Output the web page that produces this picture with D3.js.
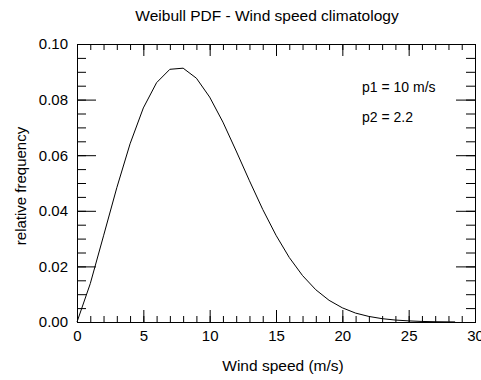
<!doctype html>
<html>
<head>
  <meta charset="utf-8">
  <title>Weibull PDF</title>
  <script src="https://cdn.jsdelivr.net/npm/d3@7"></script>
  <style>
    body { margin: 0; background: #fff; }
    svg text { font-family: "Liberation Sans", Arial, sans-serif; fill: #000; }
  </style>
</head>
<body>
  <div id="chart"></div>
  <script>
    // wind speed (m/s) and relative frequency
    var speeds = [0, 1, 2, 3, 4, 5, 6, 7, 8, 9, 10, 11, 12, 13, 14, 15, 16, 17, 18, 19,
                  20, 21, 22, 23, 24, 25, 26, 27, 28, 28.5];
    var freqs = [0, 0.0138, 0.0310, 0.0483, 0.0641, 0.0770, 0.0861, 0.0909, 0.0913, 0.0877,
                 0.0809, 0.0719, 0.0615, 0.0508, 0.0405, 0.0312, 0.0232, 0.0167, 0.0116, 0.0078,
                 0.0051, 0.0032, 0.0020, 0.0012, 0.0007, 0.0004, 0.0002, 0.0001, 0.00005, 0.00003];
    var xTicks = [0, 5, 10, 15, 20, 25, 30];
    var yTicks = [0, 0.02, 0.04, 0.06, 0.08, 0.10];
    var notes = ['p1 = 10 m/s', 'p2 = 2.2'];

    var width = 481, height = 380;
    var plotLeft = 77, plotRight = 475, plotTop = 44, plotBottom = 322;

    var svg = d3.select('#chart').append('svg')
      .attr('width', width)
      .attr('height', height);

    var x = d3.scaleLinear().domain([0, 30]).range([plotLeft, plotRight]);
    var y = d3.scaleLinear().domain([0, 0.10]).range([plotBottom, plotTop]);

    var xMinor = d3.range(0, 31, 1);
    var yMinor = d3.range(0, 0.1001, 0.005);

    // bottom and top axes
    svg.append('g')
      .attr('transform', 'translate(0,' + plotBottom + ')')
      .call(d3.axisBottom(x).tickValues(xMinor).tickSize(-6).tickFormat(''));
    svg.append('g')
      .attr('transform', 'translate(0,' + plotBottom + ')')
      .call(d3.axisBottom(x).tickValues(xTicks).tickSize(-12).tickPadding(8)
        .tickFormat(d3.format('d')));
    svg.append('g')
      .attr('transform', 'translate(0,' + plotTop + ')')
      .call(d3.axisTop(x).tickValues(xMinor).tickSize(-6).tickFormat(''));
    svg.append('g')
      .attr('transform', 'translate(0,' + plotTop + ')')
      .call(d3.axisTop(x).tickValues(xTicks).tickSize(-12).tickFormat(''));

    // left and right axes
    svg.append('g')
      .attr('transform', 'translate(' + plotLeft + ',0)')
      .call(d3.axisLeft(y).tickValues(yMinor).tickSize(-9).tickFormat(''));
    svg.append('g')
      .attr('transform', 'translate(' + plotLeft + ',0)')
      .call(d3.axisLeft(y).tickValues(yTicks).tickSize(-19).tickPadding(9)
        .tickFormat(d3.format('.2f')));
    svg.append('g')
      .attr('transform', 'translate(' + plotRight + ',0)')
      .call(d3.axisRight(y).tickValues(yMinor).tickSize(-9).tickFormat(''));
    svg.append('g')
      .attr('transform', 'translate(' + plotRight + ',0)')
      .call(d3.axisRight(y).tickValues(yTicks).tickSize(-19).tickFormat(''));

    svg.selectAll('.domain').attr('stroke', '#000');
    svg.selectAll('.tick line').attr('stroke', '#000');
    svg.selectAll('.tick text').attr('font-size', '15px');

    svg.append('path')
      .datum(d3.zip(speeds, freqs))
      .attr('fill', 'none')
      .attr('stroke', '#000')
      .attr('stroke-width', 1)
      .attr('d', d3.line()
        .x(function(d) { return x(d[0]); })
        .y(function(d) { return y(d[1]); }));

    svg.selectAll('text.note')
      .data(notes)
      .enter()
      .append('text')
      .attr('class', 'note')
      .attr('x', 362)
      .attr('y', function(d, i) { return 92 + i * 30; })
      .attr('font-size', '14px')
      .text(function(d) { return d; });

    svg.append('text')
      .attr('x', 267)
      .attr('y', 21)
      .attr('text-anchor', 'middle')
      .attr('font-size', '15.5px')
      .text('Weibull PDF - Wind speed climatology');

    svg.append('text')
      .attr('x', 283)
      .attr('y', 371)
      .attr('text-anchor', 'middle')
      .attr('font-size', '15.5px')
      .text('Wind speed (m/s)');

    svg.append('text')
      .attr('transform', 'translate(26,186) rotate(-90)')
      .attr('text-anchor', 'middle')
      .attr('font-size', '15px')
      .text('relative frequency');
  </script>
</body>
</html>
